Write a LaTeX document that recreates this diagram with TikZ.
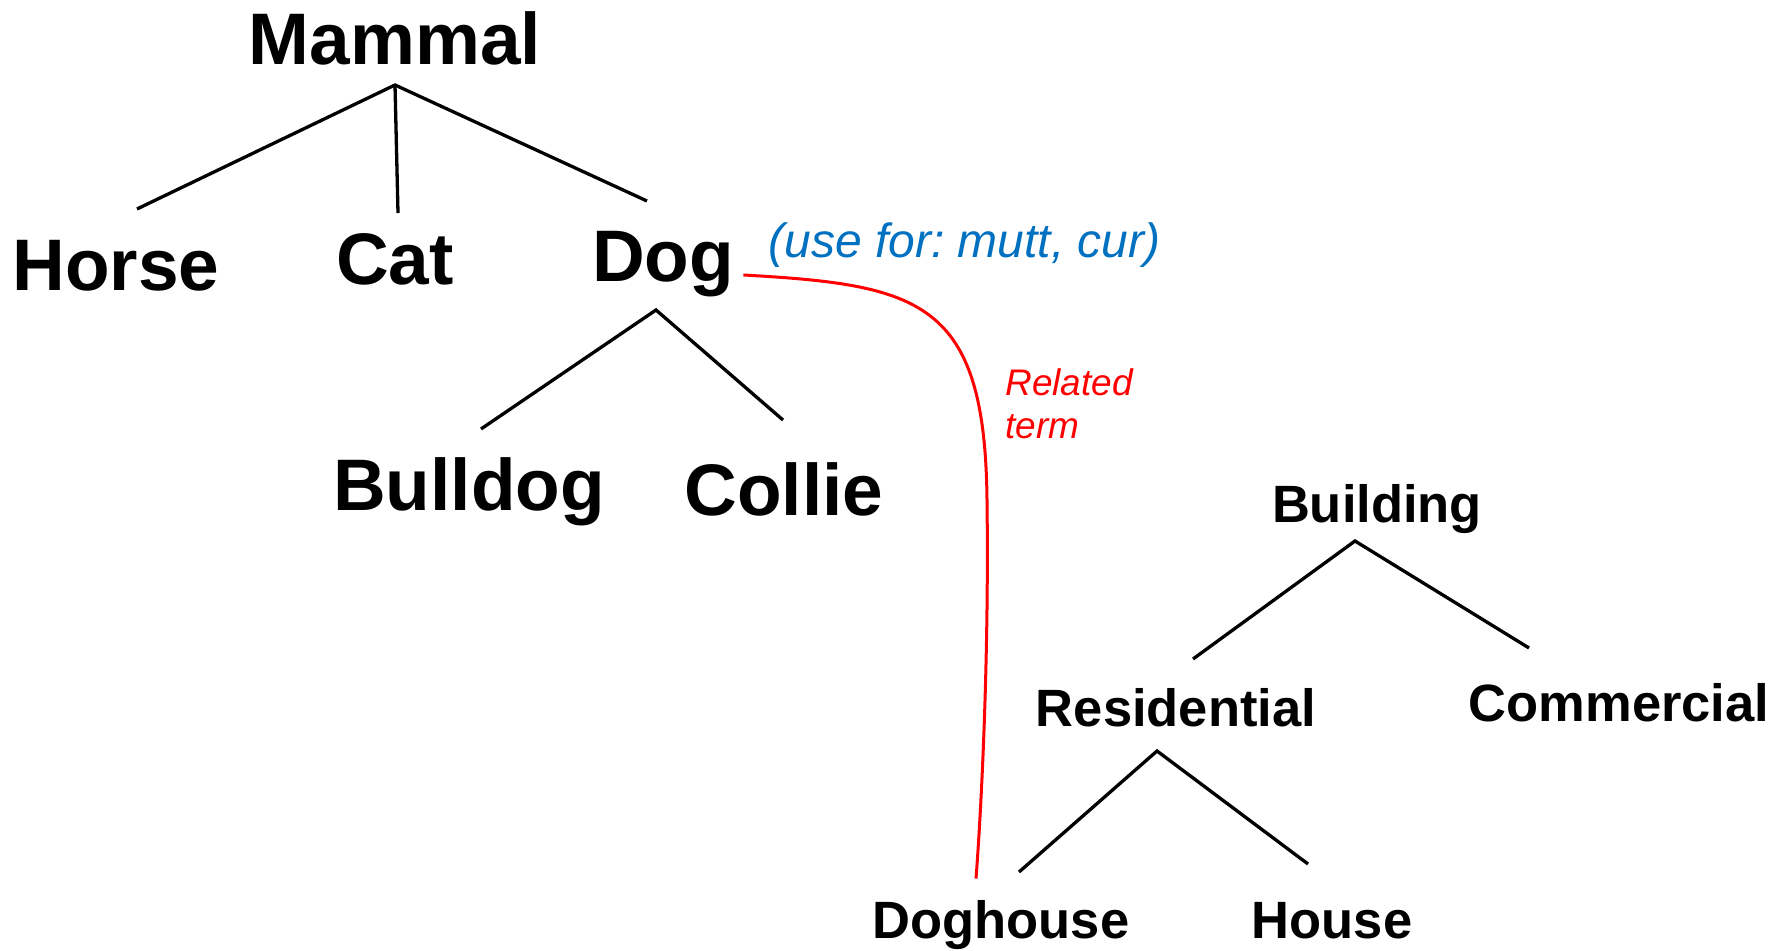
\documentclass[tikz,border=0pt]{standalone}
\usepackage{fontspec}
\setmainfont{Liberation Sans}
\usetikzlibrary{calc}
\definecolor{useblue}{RGB}{0,112,192}
\frenchspacing

\begin{document}
\begin{tikzpicture}[x=0.5pt, y=-0.5pt,
    big/.style={font=\fontsize{36.5}{40}\selectfont\bfseries, inner sep=0pt, anchor=base},
    small/.style={font=\fontsize{26.25}{30}\selectfont\bfseries, inner sep=0pt, anchor=base},
    branch/.style={black, line width=1.65pt}]
            \useasboundingbox (0,0) rectangle (1789,951);
            % animal tree
            \node[big] (Mammal) at (395,65){Mammal};
            \node[big] (Horse) at (116,291){Horse};
            \node[big] (Cat) at (395,285){Cat};
            \node[big] (Dog) at (663,282){Dog};
            \node[big] (Bulldog) at (469,511){Bulldog};
            \node[big] (Collie) at (784,516){Collie};
            \node[anchor=base west, inner sep=0pt, text=useblue, font=\fontsize{24}{28}\selectfont\itshape] (UseFor) at (768,258){(use for: mutt, cur)};
            % building tree
            \node[small] (Building) at (1377,523){Building};
            \node[small] (Residential) at (1176,726){Residential};
            \node[small] (Commercial) at (1619,721){Commercial};
            \node[small] (Doghouse) at (1001,938){Doghouse};
            \node[small] (House) at (1332,938){House};
            \node[anchor=north west, inner sep=0pt, align=left, text=red, font=\fontsize{18.5}{21.5}\selectfont\itshape] (Related) at (1005,368){Related\\term};
            % branch points
            \coordinate (MF) at (395,85);
            \coordinate (HT) at (137,209);
            \coordinate (CT) at (398,213);
            \coordinate (DT) at (647,201);
            \coordinate (DF) at (656,310);
            \coordinate (BT) at (481,429);
            \coordinate (CoT) at (783,420);
            \coordinate (BF) at (1355,541);
            \coordinate (RT) at (1193,659);
            \coordinate (CmT) at (1529,648);
            \coordinate (RF) at (1157,751);
            \coordinate (DhT) at (1019,872);
            \coordinate (HoT) at (1308,864);
            \draw[branch] (HT) -- (MF) -- (DT);
            \draw[branch] (MF) -- (CT);
            \draw[branch] (BT) -- (DF) -- (CoT);
            \draw[branch] (RT) -- (BF) -- (CmT);
            \draw[branch] (DhT) -- (RF) -- (HoT);
            % related term link
            \coordinate (RS) at ($(Dog.base east)+(9,-7)$);
            \coordinate (RE) at ($(Doghouse.north)+(-25,-21)$);
            \draw[red, line width=1.5pt] (RS) .. controls (920,285) and (985,300) .. (987,500) .. controls (989,650) and (982,800) .. (RE);
\end{tikzpicture}
\end{document}
